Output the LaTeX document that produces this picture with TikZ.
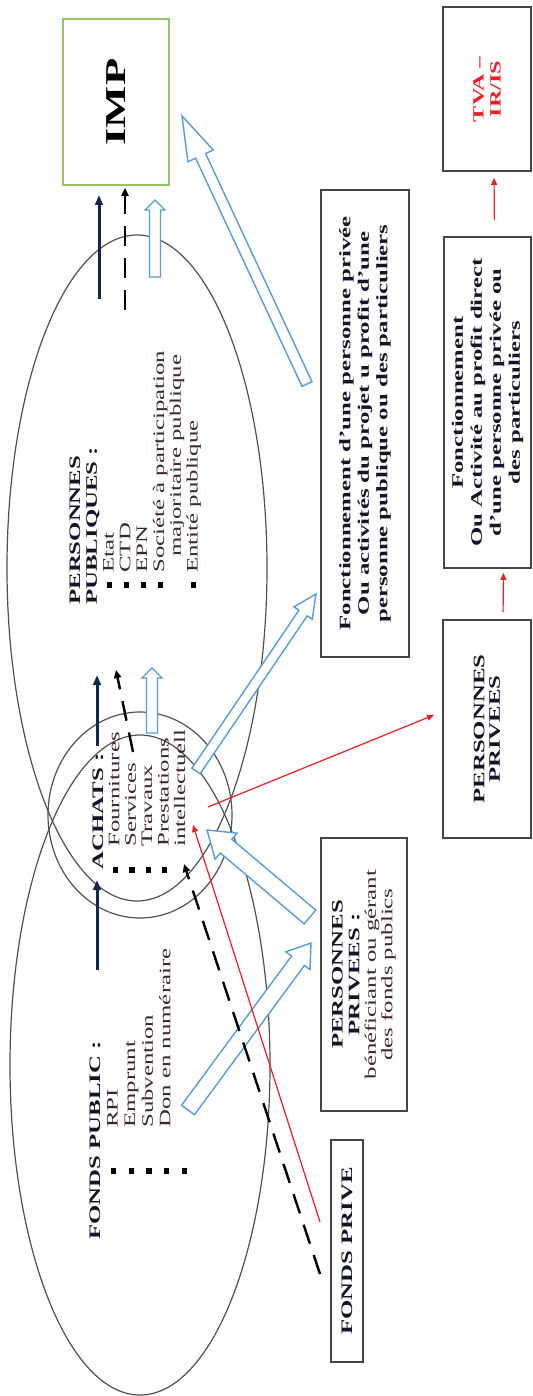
\documentclass[tikz,border=0pt]{standalone}
\usepackage{fontspec}
\setmainfont{Liberation Serif}[FakeStretch=1.55]
\usetikzlibrary{shapes.geometric,arrows.meta,calc}
\definecolor{navyc}{RGB}{15,40,75}
\definecolor{hblue}{RGB}{91,155,213}
\definecolor{impgreen}{RGB}{150,195,105}
\definecolor{itemc}{RGB}{60,38,50}
\definecolor{headc}{RGB}{20,22,40}
\definecolor{ellc}{RGB}{80,80,80}
\definecolor{boxc}{RGB}{70,70,70}
\definecolor{redc}{RGB}{235,30,35}
\newcommand\bul{\rule[0.6pt]{2.6pt}{2.6pt}}
\newcommand\bitem[3]{\hspace*{#1}\makebox[#2][l]{\bul}{\color{itemc}#3}}
\newdimen\hax \newdimen\hay \newdimen\hbx \newdimen\hby
\newcommand\hollowarrow[5]{%
  \pgfextractx{\hax}{\pgfpointanchor{#1}{center}}%
  \pgfextracty{\hay}{\pgfpointanchor{#1}{center}}%
  \pgfextractx{\hbx}{\pgfpointanchor{#2}{center}}%
  \pgfextracty{\hby}{\pgfpointanchor{#2}{center}}%
  \pgfmathsetmacro\hang{atan2(\hby-\hay,\hbx-\hax)}%
  \pgfmathsetmacro\hlen{100*veclen((\hbx-\hax)/100,(\hby-\hay)/100)}%
  \pgfmathsetmacro\hbase{\hlen-#5}%
  \pgfmathsetmacro\hx{\hax}\pgfmathsetmacro\hy{\hay}%
  \begin{scope}[shift={(\hx pt,\hy pt)},rotate=\hang]
    \draw[hollow] (0pt,-#3pt) -- (\hbase pt,-#3pt) -- (\hbase pt,-#4pt) -- (\hlen pt,0pt)
      -- (\hbase pt,#4pt) -- (\hbase pt,#3pt) -- (0pt,#3pt) -- cycle;
  \end{scope}}
\begin{document}
\begin{tikzpicture}[x=0.5pt,y=-0.5pt,
  ell/.style={ellipse,draw=ellc,line width=0.6pt,inner sep=0pt},
  boxnode/.style={draw=boxc,line width=0.9pt,rotate=90,inner sep=1pt,align=center,fill=white,text=headc},
  blocktxt/.style={rotate=90,anchor=base west,inner sep=0pt},
  navyarr/.style={draw=navyc,line width=1.5pt,-{Triangle[length=5pt,width=3.8pt]}},
  dasharr/.style={draw=black,line width=1.2pt,dash pattern=on 10pt off 6pt,-{Triangle[length=4pt,width=3.6pt]}},
  redarr/.style={draw=redc,line width=0.6pt,-{Triangle[length=3.5pt,width=3pt]}},
  hollow/.style={draw=hblue,line width=0.7pt,fill=white,line join=miter}]
\useasboundingbox (0,0) rectangle (533,1396);

% ellipses
\node[ell,minimum width=130pt,minimum height=333pt] (epub) at (137,568) {};
\node[ell,minimum width=130pt,minimum height=330pt] (efonds) at (140,1065) {};
\node[ell,minimum width=92pt,minimum height=103pt] (eachat) at (140,815) {};

% boxes
\node[boxnode,draw=impgreen,line width=0.6pt,minimum width=83pt,minimum height=53pt,
      font=\fontsize{14.4}{16}\selectfont\bfseries,text=black] (imp) at (116,102) {IMP};
\node[boxnode,minimum width=82pt,minimum height=44pt,
      font=\fontsize{7.8}{8.5}\selectfont\bfseries,text=redc] (tva) at (487,89) {TVA –\\IR/IS};
\node[boxnode,minimum width=165.5pt,minimum height=43.5pt,
      font=\fontsize{8}{9.5}\selectfont\bfseries] (fonct2) at (487.5,402.5)
      {Fonctionnement\\Ou Activité au profit direct\\d'une personne privée ou\\des particuliers};
\node[boxnode,minimum width=109pt,minimum height=44pt,
      font=\fontsize{8}{7.8}\selectfont\bfseries] (ppriv) at (487,729) {PERSONNES\\PRIVEES};
\node[boxnode,minimum width=233.5pt,minimum height=44pt,
      font=\fontsize{8}{9.25}\selectfont\bfseries] (fonct1) at (365,423.5)
      {Fonctionnement d'une personne privée\\Ou activités du projet u profit d'une\\personne publique ou des particuliers};
\node[boxnode,minimum width=136.5pt,minimum height=43pt,
      font=\fontsize{8}{8.3}\selectfont] (pp) at (364,974.5)
      {\textbf{PERSONNES}\\\textbf{PRIVEES :}\\{\color{itemc}bénéficiant ou gérant}\\{\color{itemc}des fonds publics}};
\node[boxnode,minimum width=111pt,minimum height=16pt,
      font=\fontsize{8}{9}\selectfont\bfseries] (fprive) at (347,1251) {FONDS PRIVE};

% texts in ellipses
\node[blocktxt,font=\fontsize{8}{8.4}\selectfont] (ppubtxt) at (80,605)
  {\begin{tabular}[t]{@{}l@{}}
   \textcolor{headc}{\bfseries PERSONNES}\\
   \textcolor{headc}{\bfseries PUBLIQUES :}\\
   \bitem{8.5pt}{7.5pt}{Etat}\\
   \bitem{8.5pt}{7.5pt}{CTD}\\
   \bitem{8.5pt}{7.5pt}{EPN}\\
   \bitem{8.5pt}{7.5pt}{Société à participation}\\
   \hspace*{24pt}{\color{itemc}majoritaire publique}\\
   \bitem{8.5pt}{7.5pt}{Entité publique}
   \end{tabular}};
\node[blocktxt,font=\fontsize{8}{8.2}\selectfont] (achtxt) at (103,870)
  {\begin{tabular}[t]{@{}l@{}}
   \textcolor{headc}{\bfseries ACHATS :}\\
   \bitem{-1.5pt}{13pt}{Fournitures}\\
   \bitem{-1.5pt}{13pt}{Services}\\
   \bitem{-1.5pt}{13pt}{Travaux}\\
   \bitem{-1.5pt}{13pt}{Prestations}\\
   \hspace*{11.5pt}{\color{itemc}intellectuell}
   \end{tabular}};
\node[blocktxt,font=\fontsize{8}{8.8}\selectfont] (fpubtxt) at (100,1240)
  {\begin{tabular}[t]{@{}l@{}}
   \textcolor{headc}{\bfseries FONDS PUBLIC :}\\
   \bitem{33pt}{23pt}{RPI}\\
   \bitem{33pt}{23pt}{Emprunt}\\
   \bitem{33pt}{23pt}{Subvention}\\
   \bitem{33pt}{23pt}{Don en numéraire}\\
   \bitem{33pt}{23pt}{}
   \end{tabular}};

% free ends
\coordinate (n1s) at (99,299);  \coordinate (n1e) at (99,195);
\coordinate (n2s) at (97,746);  \coordinate (n2e) at (97,675);
\coordinate (n3s) at (97,970);  \coordinate (n3e) at (97,880);
\coordinate (d1s) at (125,310); \coordinate (d1e) at (125,188);
\coordinate (d2s) at (133,752); \coordinate (d2e) at (116,670);
\coordinate (d3s) at (320,1274);\coordinate (d3e) at (184,864);
\coordinate (r1s) at (320,1222);\coordinate (r1e) at (193,825);
\coordinate (r2s) at (208,807); \coordinate (r2e) at (434,715);
\coordinate (a1s) at (155,277); \coordinate (a1e) at (155,200);
\coordinate (a2s) at (152,733); \coordinate (a2e) at (152,668);
\coordinate (a3s) at (307,384); \coordinate (a3e) at (182,116);
\coordinate (a4s) at (196,771); \coordinate (a4e) at (316,594);
\coordinate (a5s) at (310,917); \coordinate (a5e) at (207,830);
\coordinate (a6s) at (188,1110);\coordinate (a6e) at (311,943);

% hollow arrows
\hollowarrow{a1s}{a1e}{2.75}{5}{5}
\hollowarrow{a2s}{a2e}{2.75}{5}{5}
\hollowarrow{a3s}{a3e}{2.75}{7}{22}
\hollowarrow{a4s}{a4e}{2.5}{5.5}{11.5}
\hollowarrow{a5s}{a5e}{4.5}{8.5}{12.5}
\hollowarrow{a6s}{a6e}{4}{7.5}{11}

% navy arrows
\draw[navyarr] (n1s) -- (n1e);
\draw[navyarr] (n2s) -- (n2e);
\draw[navyarr] (n3s) -- (n3e);

% dashed arrows
\draw[dasharr] (d1s) -- (d1e);
\draw[dasharr] (d2s) -- (d2e);
\draw[dasharr] (d3s) -- (d3e);

% red arrows
\draw[redarr] (r1s) -- (r1e);
\draw[redarr] (r2s) -- (r2e);
\draw[redarr,shorten <=3.5pt,shorten >=2pt] ([xshift=8pt]ppriv.east) -- ([xshift=8pt]fonct2.west);
\draw[redarr,shorten <=8pt,shorten >=3pt] ([xshift=3.5pt]fonct2.east) -- ([xshift=3.5pt]tva.west);
\end{tikzpicture}
\end{document}
